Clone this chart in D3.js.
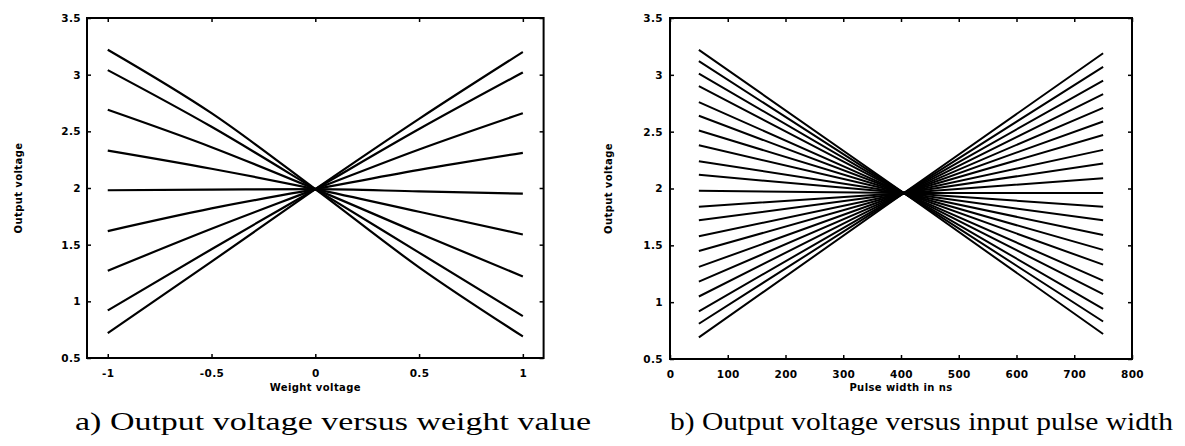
<!DOCTYPE html>
<html>
<head>
<meta charset="utf-8">
<script src="https://cdn.jsdelivr.net/npm/d3@7"></script>
<style>
  body { margin: 0; background: #fff; }
  .tick text { font-family: "DejaVu Sans", sans-serif; font-weight: bold; font-size: 10.5px; letter-spacing: 0.4px; fill: #000; }
  .axis-title { font-family: "DejaVu Sans", sans-serif; font-weight: bold; font-size: 10px; letter-spacing: 0.4px; fill: #000; }
  .caption { font-family: "Liberation Serif", serif; font-size: 25px; fill: #000; }
</style>
</head>
<body>
<svg id="chart" width="1185" height="446"></svg>
<script>
// Panel a: output voltage vs weight voltage (one curve per pulse width)
const weightX = [-1, -0.5, 0, 0.5, 1];
const weightCurves = [
    [3.22, 2.66, 1.99, 1.30, 0.69],
    [3.04, 2.54, 1.99, 1.43, 0.87],
    [2.69, 2.36, 1.99, 1.60, 1.22],
    [2.33, 2.17, 1.99, 1.79, 1.59],
    [1.98, 1.985, 1.99, 1.97, 1.95],
    [1.62, 1.82, 1.99, 2.16, 2.31],
    [1.27, 1.64, 1.99, 2.34, 2.66],
    [0.92, 1.46, 1.99, 2.52, 3.02],
    [0.72, 1.35, 1.99, 2.61, 3.20]
];

// Panel b: output voltage vs pulse width (one line per weight value)
const pulseX = [50, 405, 750];
const pulseStart = [3.22, 3.12, 3.01, 2.90, 2.76, 2.64, 2.51, 2.38, 2.24, 2.12, 1.98,
                    1.84, 1.72, 1.58, 1.45, 1.31, 1.18, 1.05, 0.92, 0.81, 0.69];
const pulseCross = 1.96;
const pulseEnd = [0.72, 0.83, 0.94, 1.07, 1.19, 1.33, 1.46, 1.59, 1.72, 1.84, 1.96,
                  2.09, 2.22, 2.34, 2.47, 2.59, 2.71, 2.83, 2.95, 3.07, 3.19];

const yTicks = [0.5, 1, 1.5, 2, 2.5, 3, 3.5];
const weightTicks = [-1, -0.5, 0, 0.5, 1];
const pulseTicks = [0, 100, 200, 300, 400, 500, 600, 700, 800];

const svg = d3.select("#chart");

// Draw one framed panel, returns the scales
function drawPanel(opts) {
    const x = d3.scaleLinear().domain(opts.xDomain).range([opts.left, opts.right]);
    const y = d3.scaleLinear().domain([0.5, 3.5]).range([opts.bottom, opts.top]);
    const g = svg.append("g");

    // frame
    g.append("rect")
        .attr("x", opts.left).attr("y", opts.top)
        .attr("width", opts.right - opts.left)
        .attr("height", opts.bottom - opts.top)
        .attr("fill", "none").attr("stroke", "#000").attr("stroke-width", 2);

    const fmt = d => String(d);
    const axes = [
        [d3.axisBottom(x).tickValues(opts.xTicks).tickFormat(fmt).tickPadding(12), `translate(0,${opts.bottom})`],
        [d3.axisTop(x).tickValues(opts.xTicks).tickFormat(""), `translate(0,${opts.top})`],
        [d3.axisLeft(y).tickValues(yTicks).tickFormat(fmt).tickPadding(opts.yPad), `translate(${opts.left},0)`],
        [d3.axisRight(y).tickValues(yTicks).tickFormat(""), `translate(${opts.right},0)`]
    ];
    axes.forEach(([axis, tr]) => {
        const a = g.append("g").attr("transform", tr)
            .call(axis.tickSizeInner(-4).tickSizeOuter(0));
        a.select(".domain").remove();
        a.selectAll(".tick line").attr("stroke", "#000").attr("stroke-width", 1.5);
    });

    g.append("text").attr("class", "axis-title")
        .attr("x", x(opts.xTitleAt)).attr("y", 391)
        .attr("text-anchor", "middle").text(opts.xTitle);
    g.append("text").attr("class", "axis-title")
        .attr("transform", `translate(${opts.yTitleX},${(opts.top + opts.bottom) / 2}) rotate(-90)`)
        .attr("text-anchor", "middle").text("Output voltage");

    return { x, y, g };
}

const line = d3.line().x(d => d[0]).y(d => d[1]);

// panel a
const pa = drawPanel({
    left: 87, right: 543.6, top: 18, bottom: 358,
    xDomain: [-1.1, 1.1], xTicks: weightTicks, yPad: 6,
    xTitle: "Weight voltage", xTitleAt: 0, yTitleX: 22
});
const curveLine = d3.line().curve(d3.curveMonotoneX)
    .x((d, i) => pa.x(weightX[i])).y(d => pa.y(d));
pa.g.append("g").selectAll("path")
    .data(weightCurves)
    .join("path")
    .attr("d", d => curveLine(d))
    .attr("fill", "none").attr("stroke", "#000").attr("stroke-width", 2.2);

// panel b
const pb = drawPanel({
    left: 670, right: 1132, top: 18, bottom: 359,
    xDomain: [0, 800], xTicks: pulseTicks, yPad: 7,
    xTitle: "Pulse width in ns", xTitleAt: 400, yTitleX: 612
});
pb.g.append("g").selectAll("path")
    .data(pulseStart.map((s, i) => [s, pulseCross, pulseEnd[i]]))
    .join("path")
    .attr("d", d => line(d.map((v, i) => [pb.x(pulseX[i]), pb.y(v)])))
    .attr("fill", "none").attr("stroke", "#000").attr("stroke-width", 2);

// captions (scan is horizontally wide, so stretch to the measured width)
svg.append("text").attr("class", "caption")
    .attr("x", 75).attr("y", 430)
    .attr("textLength", 516).attr("lengthAdjust", "spacingAndGlyphs")
    .text("a) Output voltage versus weight value");
svg.append("text").attr("class", "caption")
    .attr("x", 670).attr("y", 430)
    .attr("textLength", 503).attr("lengthAdjust", "spacingAndGlyphs")
    .text("b) Output voltage versus input pulse width");
</script>
</body>
</html>
